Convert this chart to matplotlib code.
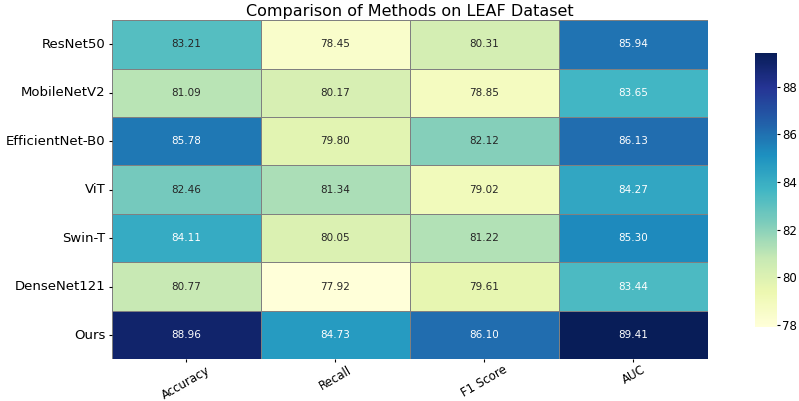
import matplotlib
matplotlib.use("Agg")
import matplotlib.pyplot as plt
import numpy as np
import seaborn as sns

methods = ["ResNet50", "MobileNetV2", "EfficientNet-B0", "ViT", "Swin-T", "DenseNet121", "Ours"]
metrics = ["Accuracy", "Recall", "F1 Score", "AUC"]

accuracy = [83.21, 81.09, 85.78, 82.46, 84.11, 80.77, 88.96]
recall   = [78.45, 80.17, 79.80, 81.34, 80.05, 77.92, 84.73]
f1_score = [80.31, 78.85, 82.12, 79.02, 81.22, 79.61, 86.10]
auc      = [85.94, 83.65, 86.13, 84.27, 85.30, 83.44, 89.41]

data = np.array([accuracy, recall, f1_score, auc]).T

fig = plt.figure(figsize=(7.99, 4.01), dpi=100)
ax = fig.add_axes([0.140, 0.104, 0.746, 0.846])
cax = fig.add_axes([0.945, 0.185, 0.028, 0.683])

sns.heatmap(data, annot=True, fmt=".2f", cmap="YlGnBu", linewidths=0.6, linecolor="gray",
            xticklabels=metrics, yticklabels=methods, ax=ax, cbar_ax=cax,
            annot_kws={"fontsize": 7.5})

ax.set_title("Comparison of Methods on LEAF Dataset", fontsize=11.5, pad=3)
ax.set_xticklabels(metrics, rotation=30, fontsize=8.5, ha="center")
ax.set_yticklabels(methods, rotation=0, fontsize=9.5)
ax.tick_params(axis="x", length=2.5, pad=0.5)
ax.tick_params(axis="y", length=2.5, pad=2)
cax.tick_params(labelsize=8.5, length=2, pad=1.5)
cax.set_yticks([78, 80, 82, 84, 86, 88])
for s in cax.spines.values():
    s.set_visible(False)

fig.savefig("out.png", dpi=100)
